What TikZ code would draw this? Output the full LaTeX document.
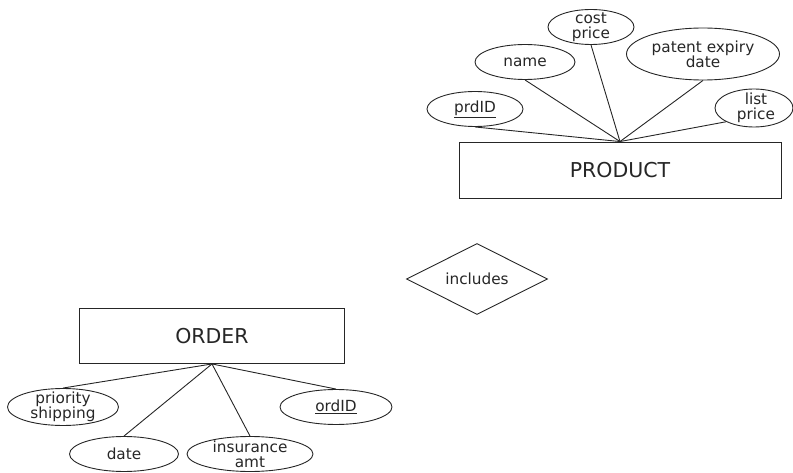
\documentclass[tikz,border=0pt]{standalone}
\usepackage{fontspec}
\setmainfont{DejaVu Sans}
\usetikzlibrary{shapes.geometric}

\definecolor{inkgray}{HTML}{262626}

\begin{document}
\begin{tikzpicture}[
    x=1pt, y=-1pt,
    entity/.style={draw=inkgray, line width=0.9pt, rectangle,
                   inner sep=0pt, font=\fontsize{20.5}{22}\selectfont,
                   text=inkgray},
    attr/.style={draw=inkgray, line width=0.9pt, ellipse, inner sep=0pt},
    attrtxt/.style={font=\fontsize{15.3}{15}\selectfont, align=center,
                    text=inkgray, inner sep=0pt},
    rel/.style={draw=inkgray, line width=0.9pt, diamond, aspect=2,
                inner sep=0pt, minimum width=141pt, minimum height=71pt,
                font=\fontsize{15.3}{15}\selectfont, text=inkgray},
    link/.style={draw=inkgray, line width=0.9pt},
]
\useasboundingbox (0,0) rectangle (793,473);

% --- Entities ---
\node[entity, minimum width=322pt, minimum height=56pt] (product) at (620,170) {PRODUCT};
\node[entity, minimum width=265pt, minimum height=55pt] (order)   at (212,336) {ORDER};

% --- Relationship ---
\node[rel] (includes) at (477,279) {includes};

% --- PRODUCT attributes ---
\node[attr, minimum width=96pt, minimum height=35pt,
      label={[attrtxt]center:\underline{prdID}}] (prdid) at (475,109) {};
\node[attr, minimum width=100pt, minimum height=35pt,
      label={[attrtxt]center:name}] (pname) at (525,62) {};
\node[attr, minimum width=86pt, minimum height=35pt,
      label={[attrtxt]center:{cost\\price}}] (cost) at (591,27) {};
\node[attr, minimum width=153pt, minimum height=52pt,
      label={[attrtxt]center:{patent expiry\\date}}] (patent) at (703,54) {};
\node[attr, minimum width=78pt, minimum height=38pt,
      label={[attrtxt, xshift=2pt]center:{list\\price}}] (lprice) at (754,108) {};

% --- ORDER attributes ---
\node[attr, minimum width=111pt, minimum height=37pt,
      label={[attrtxt]center:{priority\\shipping}}] (prio) at (63,407) {};
\node[attr, minimum width=109pt, minimum height=35pt,
      label={[attrtxt]center:date}] (odate) at (124,454) {};
\node[attr, minimum width=126pt, minimum height=35pt,
      label={[attrtxt]center:{insurance\\amt}}] (insur) at (250,454) {};
\node[attr, minimum width=112pt, minimum height=35pt,
      label={[attrtxt]center:\underline{ordID}}] (ordid) at (336,407) {};

% --- Links to PRODUCT ---
\draw[link] (product.north) -- (prdid.south);
\draw[link] (product.north) -- (pname.south);
\draw[link] (product.north) -- (cost.south);
\draw[link] (product.north) -- (patent.south);
\draw[link] (product.north) -- (lprice.south west);

% --- Links to ORDER ---
\draw[link] (order.south) -- (prio.north);
\draw[link] (order.south) -- (odate.north);
\draw[link] (order.south) -- (insur.north);
\draw[link] (order.south) -- (ordid.north);

\end{tikzpicture}
\end{document}
